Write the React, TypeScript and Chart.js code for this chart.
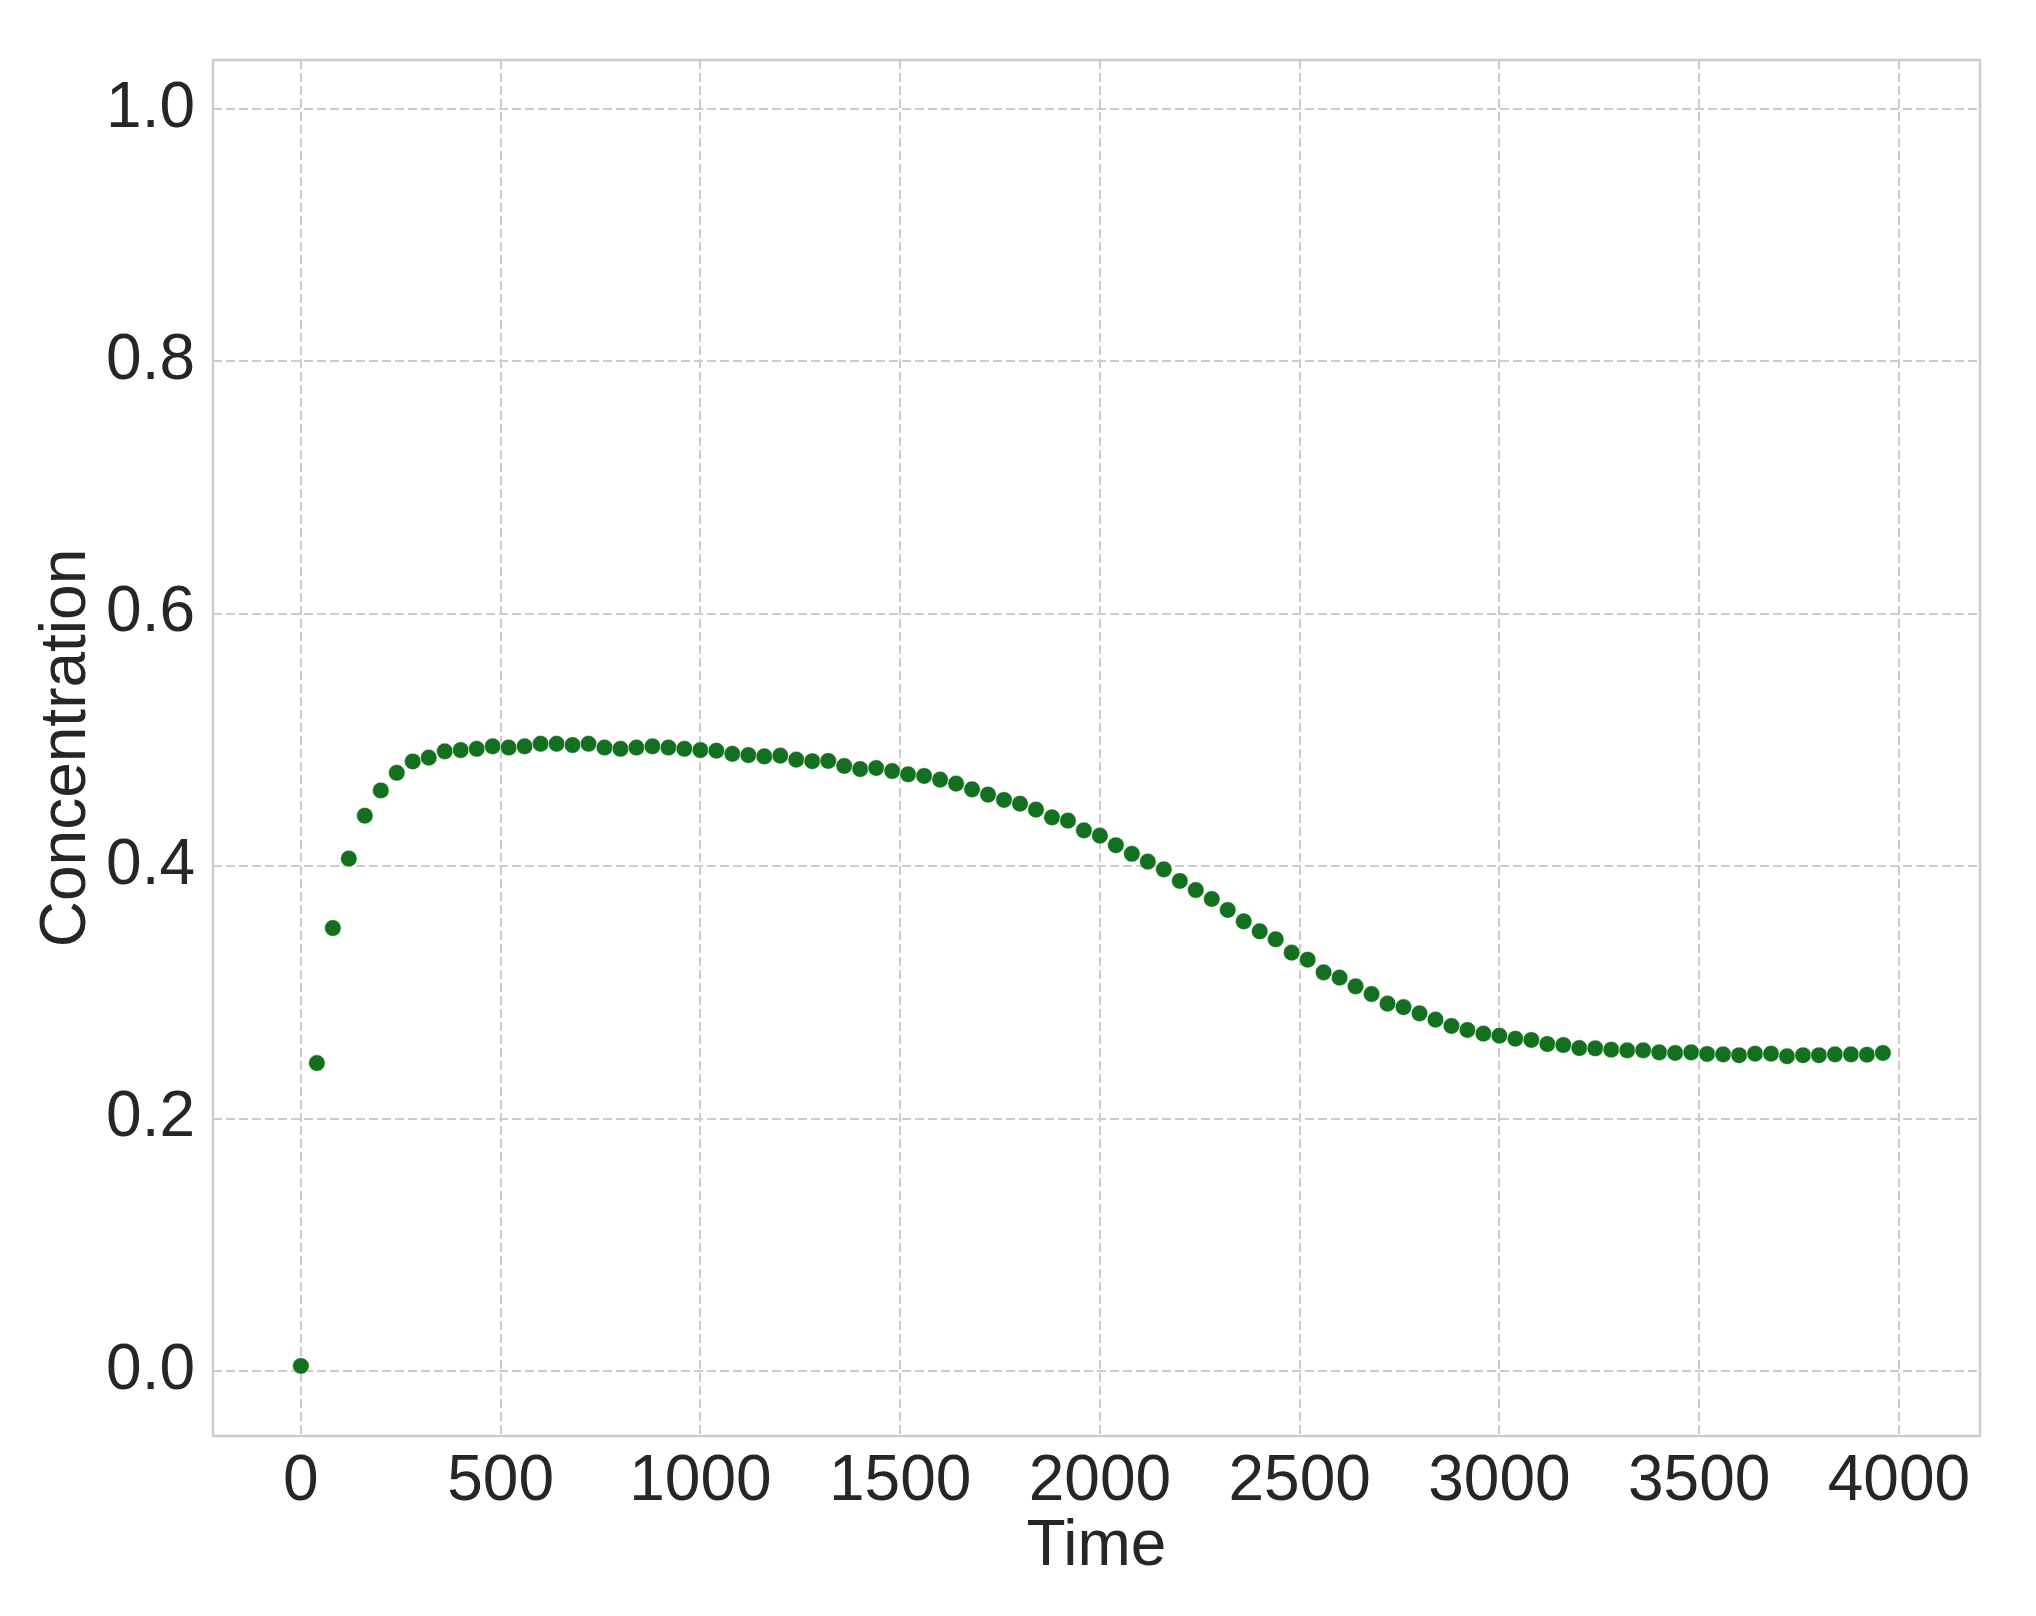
import { useEffect, useRef } from "react";
import { Chart, registerables, Plugin } from "chart.js";

Chart.register(...registerables);

// sampled every 40 time units
const times = [
  0, 40, 80, 120, 160, 200, 240, 280, 320, 360,
  400, 440, 480, 520, 560, 600, 640, 680, 720, 760,
  800, 840, 880, 920, 960, 1000, 1040, 1080, 1120, 1160,
  1200, 1240, 1280, 1320, 1360, 1400, 1440, 1480, 1520, 1560,
  1600, 1640, 1680, 1720, 1760, 1800, 1840, 1880, 1920, 1960,
  2000, 2040, 2080, 2120, 2160, 2200, 2240, 2280, 2320, 2360,
  2400, 2440, 2480, 2520, 2560, 2600, 2640, 2680, 2720, 2760,
  2800, 2840, 2880, 2920, 2960, 3000, 3040, 3080, 3120, 3160,
  3200, 3240, 3280, 3320, 3360, 3400, 3440, 3480, 3520, 3560,
  3600, 3640, 3680, 3720, 3760, 3800, 3840, 3880, 3920, 3960,
];

const concentration = [
  0.004, 0.244, 0.351, 0.406, 0.440, 0.460, 0.474, 0.483, 0.486, 0.491,
  0.492, 0.493, 0.495, 0.494, 0.495, 0.497, 0.497, 0.496, 0.497, 0.494,
  0.493, 0.494, 0.495, 0.494, 0.493, 0.492, 0.4915, 0.489, 0.488, 0.487,
  0.4876, 0.4844, 0.4832, 0.4834, 0.4794, 0.477, 0.4778, 0.4754, 0.4728, 0.4715,
  0.4686, 0.4654, 0.4609, 0.4567, 0.4525, 0.4495, 0.4448, 0.4387, 0.4361, 0.4284,
  0.4242, 0.4166, 0.4098, 0.4036, 0.3975, 0.3883, 0.3811, 0.374, 0.3653, 0.3563,
  0.3484, 0.3421, 0.3315, 0.3259, 0.3159, 0.3117, 0.3048, 0.2987, 0.2911, 0.2883,
  0.2834, 0.2784, 0.2734, 0.2702, 0.2673, 0.2657, 0.2633, 0.2623, 0.2591, 0.2583,
  0.2559, 0.2557, 0.2546, 0.2541, 0.2541, 0.2525, 0.252, 0.2525, 0.2512, 0.2509,
  0.2502, 0.2514, 0.2514, 0.2494, 0.2502, 0.2502, 0.2509, 0.2509, 0.2506, 0.252,
];

const xTicks = [0, 500, 1000, 1500, 2000, 2500, 3000, 3500, 4000];
const yTicks = [0, 0.2, 0.4, 0.6, 0.8, 1.0];

const FONT = "'Liberation Sans', Arial, sans-serif";
const TEXT = "#262626";
const GRID = "#cccccc";

// draws the box around the plot area, like matplotlib spines
const frame: Plugin = {
  id: "frame",
  afterDraw(chart) {
    const { ctx, chartArea: a } = chart;
    ctx.save();
    ctx.strokeStyle = GRID;
    ctx.lineWidth = 2.5;
    ctx.strokeRect(a.left, a.top, a.right - a.left, a.bottom - a.top);
    ctx.restore();
  },
};

export default function App() {
  const canvasRef = useRef<HTMLCanvasElement>(null);
  const chartRef = useRef<Chart | null>(null);

  useEffect(() => {
    if (!canvasRef.current) return;
    if (chartRef.current) chartRef.current.destroy();

    chartRef.current = new Chart(canvasRef.current, {
      type: "scatter",
      data: {
        datasets: [{
          data: times.map((t, i) => ({ x: t, y: concentration[i] })),
          backgroundColor: "#12701f",
          borderColor: "rgba(255,255,255,0.7)",
          borderWidth: 0.8,
          pointRadius: 8.3,
          pointHoverRadius: 8.3,
        }],
      },
      options: {
        animation: false,
        responsive: false,
        devicePixelRatio: 1,
        layout: { padding: { top: 60, right: 56, left: 0, bottom: 0 } },
        plugins: { legend: { display: false }, tooltip: { enabled: false } },
        scales: {
          x: {
            type: "linear",
            min: -220,
            max: 4203,
            afterBuildTicks: s => { s.ticks = xTicks.map(v => ({ value: v })); },
            afterFit: s => { s.height = 180; },
            ticks: {
              color: TEXT,
              padding: 8,
              font: { family: FONT, size: 64, lineHeight: 1.2 },
              callback: v => String(v),
            },
            grid: { color: GRID, lineWidth: 2, drawTicks: false },
            border: { display: false, dash: [9, 4] },
            title: {
              display: true,
              text: "Time",
              color: TEXT,
              font: { family: FONT, size: 64, lineHeight: 1.2 },
              padding: { top: 0, bottom: 30 },
            },
          },
          y: {
            type: "linear",
            min: -0.0515,
            max: 1.0388,
            afterBuildTicks: s => { s.ticks = yTicks.map(v => ({ value: v })); },
            afterFit: s => { s.width = 213; },
            ticks: {
              color: TEXT,
              padding: 18,
              font: { family: FONT, size: 64, lineHeight: 1.2 },
              callback: v => Number(v).toFixed(1),
            },
            grid: { color: GRID, lineWidth: 2, drawTicks: false },
            border: { display: false, dash: [9, 4] },
            title: {
              display: true,
              text: "Concentration",
              color: TEXT,
              font: { family: FONT, size: 64, lineHeight: 1.2 },
              padding: { top: 29, bottom: 0 },
            },
          },
        },
      },
      plugins: [frame],
    });
    return () => { chartRef.current?.destroy(); };
  }, []);

  return (
    <div style={{ position: "absolute", left: 0, top: 0, width: 2036, height: 1616, background: "#fff" }}>
      <canvas ref={canvasRef} width={2036} height={1616} />
    </div>
  );
}
